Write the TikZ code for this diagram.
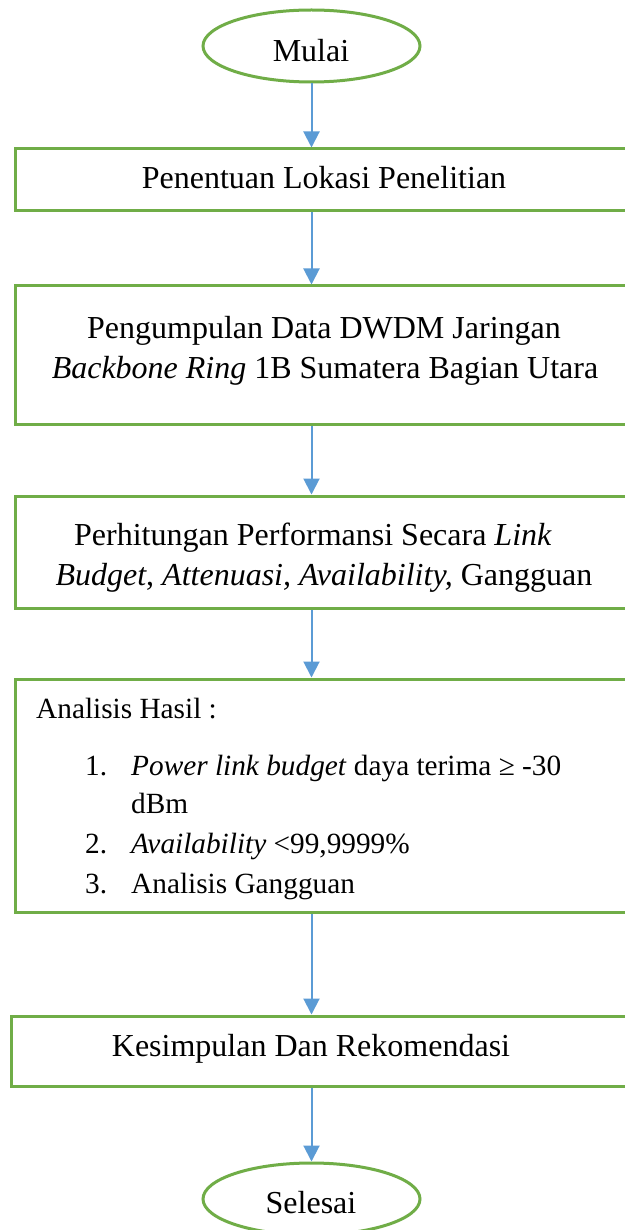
\documentclass[tikz,border=0pt]{standalone}
\usepackage{fontspec}
\setmainfont{Liberation Serif}
\usetikzlibrary{arrows.meta,shapes.geometric}
\definecolor{boxgreen}{HTML}{70AD47}
\definecolor{arrowblue}{HTML}{5B9BD5}
\tikzset{
  stepbox/.style={draw=boxgreen, line width=3pt, rectangle, inner sep=0pt},
  terminal/.style={draw=boxgreen, line width=3pt, ellipse, inner sep=0pt,
    minimum width=217pt, minimum height=72pt},
  txt/.style={anchor=base, inner sep=0pt, font=\fontsize{32}{40}\selectfont},
  txtl/.style={anchor=base west, inner sep=0pt, font=\fontsize{29.3}{39}\selectfont},
  flow/.style={draw=arrowblue, line width=2pt,
    -{Triangle[width=16pt,length=16pt]}, arrowblue}
}
\begin{document}
\begin{tikzpicture}[x=1pt,y=-1pt]
\useasboundingbox (0,0) rectangle (624,1230);
\fill[white] (0,0) rectangle (624,1230);

% start / end terminals
\node[terminal] (start) at (311.5,46) {};
\node[txt] (startt) at (311,62) {Mulai};
\node[terminal] (finish) at (311.5,1199) {};
\node[txt] (finisht) at (311,1213) {Selesai};

% process boxes
\node[stepbox, minimum width=618pt, minimum height=62pt] (b1) at (324,180) {};
\node[txt] (b1t) at (324,189) {Penentuan Lokasi Penelitian};

\node[stepbox, minimum width=618pt, minimum height=138pt] (b2) at (324,355) {};
\node[txt] (b2a) at (324,338) {Pengumpulan Data DWDM Jaringan};
\node[txt] (b2b) at (325,378) {\textit{Backbone Ring} 1B Sumatera Bagian Utara};

\node[stepbox, minimum width=618pt, minimum height=112pt] (b3) at (324,552) {};
\node[txt] (b3a) at (313,545) {Perhitungan Performansi Secara \textit{Link}};
\node[txt] (b3b) at (324,585) {\textit{Budget}, \textit{Attenuasi, Availability,} Gangguan};

\node[stepbox, minimum width=618pt, minimum height=233pt] (b4) at (324,795.5) {};
\node[txtl] (b4h) at (36,718) {Analisis Hasil :};
\node[txtl] (n1) at (85,775) {1.};
\node[txtl] (i1) at (131,775) {\textit{Power link budget} daya terima ≥ -30};
\node[txtl] (i1b) at (131,813) {dBm};
\node[txtl] (n2) at (85,853) {2.};
\node[txtl] (i2) at (131,853) {\textit{Availability} <99,9999\%};
\node[txtl] (n3) at (85,893) {3.};
\node[txtl] (i3) at (131,893) {Analisis Gangguan};

\node[stepbox, minimum width=622pt, minimum height=70pt] (b5) at (322,1051) {};
\node[txt] (b5t) at (311,1056) {Kesimpulan Dan Rekomendasi};

% connectors
\draw[flow] (start.south) -- (start.south |- b1.north);
\draw[flow] (b1.south -| start) -- (b2.north -| start);
\draw[flow] (b2.south -| start) -- (b3.north -| start);
\draw[flow] (b3.south -| start) -- (b4.north -| start);
\draw[flow] (b4.south -| start) -- (b5.north -| start);
\draw[flow] (b5.south -| start) -- (finish.north);
\end{tikzpicture}
\end{document}
